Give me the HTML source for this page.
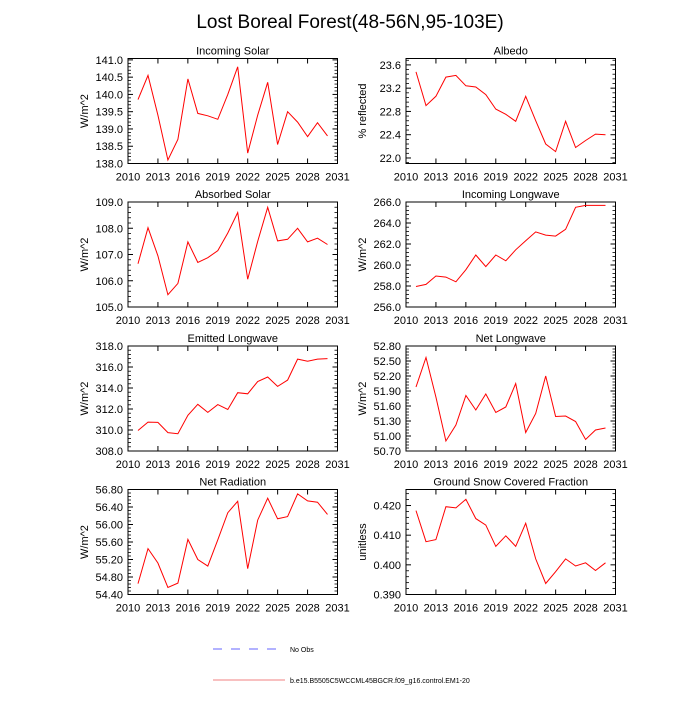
<!DOCTYPE html>
<html><head><meta charset="utf-8"><style>
body{margin:0;background:#fff;width:700px;height:700px;overflow:hidden}
svg{font-family:"Liberation Sans",sans-serif}
</style></head><body>
<svg id="chart" width="700" height="700" viewBox="0 0 700 700">
<text x="350" y="28" text-anchor="middle" font-size="19">Lost Boreal Forest(48-56N,95-103E)</text>
<g>
<line x1="213" y1="649" x2="285" y2="649" stroke="#6666ff" stroke-width="1" stroke-dasharray="9,9"/>
<text x="290" y="652" font-size="7">No Obs</text>
<line x1="213" y1="680" x2="285" y2="680" stroke="#f08080" stroke-width="1"/>
<text x="290" y="683" font-size="7">b.e15.B5505C5WCCML45BGCR.f09_g16.control.EM1-20</text>
</g>
</svg>
<script>
const years=[2011,2012,2013,2014,2015,2016,2017,2018,2019,2020,2021,2022,2023,2024,2025,2026,2027,2028,2029,2030];
const xTicks=[2010,2013,2016,2019,2022,2025,2028,2031];
const incomingSolar=[139.85,140.55,139.4,138.1,138.7,140.45,139.45,139.38,139.28,140.0,140.8,138.3,139.4,140.35,138.55,139.5,139.2,138.78,139.18,138.8];
const albedo=[23.48,22.9,23.06,23.39,23.42,23.24,23.22,23.09,22.84,22.75,22.63,23.06,22.64,22.24,22.11,22.63,22.18,22.3,22.41,22.4];
const absorbedSolar=[106.65,108.02,106.95,105.47,105.9,107.48,106.7,106.88,107.15,107.82,108.6,106.06,107.5,108.8,107.52,107.58,108.0,107.48,107.62,107.38];
const incomingLW=[257.95,258.15,258.95,258.85,258.4,259.55,260.95,259.85,260.95,260.4,261.45,262.3,263.15,262.85,262.75,263.4,265.5,265.68,265.68,265.68];
const emittedLW=[309.95,310.75,310.72,309.75,309.65,311.4,312.45,311.68,312.42,311.95,313.55,313.45,314.62,315.05,314.15,314.75,316.75,316.55,316.75,316.8];
const netLW=[51.98,52.57,51.78,50.9,51.22,51.81,51.52,51.84,51.47,51.58,52.05,51.07,51.45,52.2,51.39,51.4,51.29,50.93,51.12,51.16];
const netRad=[54.65,55.45,55.12,54.56,54.66,55.66,55.2,55.05,55.65,56.27,56.53,54.99,56.1,56.6,56.13,56.18,56.7,56.54,56.51,56.23];
const snowFrac=[0.4183,0.4078,0.4085,0.4196,0.4192,0.4221,0.4156,0.4134,0.4062,0.4098,0.4062,0.4140,0.4020,0.3937,0.3977,0.4020,0.3996,0.4007,0.3981,0.4007];
const yTicksIS=[138.0,138.5,139.0,139.5,140.0,140.5,141.0];
const yTicksAlb=[22.0,22.4,22.8,23.2,23.6];
const yTicksAbs=[105.0,106.0,107.0,108.0,109.0];
const yTicksILW=[256.0,258.0,260.0,262.0,264.0,266.0];
const yTicksELW=[308.0,310.0,312.0,314.0,316.0,318.0];
const yTicksNLW=[50.70,51.00,51.30,51.60,51.90,52.20,52.50,52.80];
const yTicksNR=[54.40,54.80,55.20,55.60,56.00,56.40,56.80];
const yTicksSnow=[0.390,0.400,0.410,0.420];

const NS='http://www.w3.org/2000/svg';
const svg=document.getElementById('chart');
function mk(tag,attrs,parent){const e=document.createElementNS(NS,tag);for(const k in attrs)e.setAttribute(k,attrs[k]);parent.appendChild(e);return e;}
const panels=[
 {id:'incoming-solar',title:'Incoming Solar',unit:'W/m^2',data:incomingSolar,ticks:yTicksIS,min:138.0,max:141.04,dec:1,col:0,row:0},
 {id:'albedo',title:'Albedo',unit:'% reflected',data:albedo,ticks:yTicksAlb,min:21.905,max:23.71,dec:1,col:1,row:0},
 {id:'absorbed-solar',title:'Absorbed Solar',unit:'W/m^2',data:absorbedSolar,ticks:yTicksAbs,min:105,max:109,dec:1,col:0,row:1},
 {id:'incoming-longwave',title:'Incoming Longwave',unit:'W/m^2',data:incomingLW,ticks:yTicksILW,min:256,max:266,dec:1,col:1,row:1},
 {id:'emitted-longwave',title:'Emitted Longwave',unit:'W/m^2',data:emittedLW,ticks:yTicksELW,min:308,max:318,dec:1,col:0,row:2},
 {id:'net-longwave',title:'Net Longwave',unit:'W/m^2',data:netLW,ticks:yTicksNLW,min:50.7,max:52.8,dec:2,col:1,row:2},
 {id:'net-radiation',title:'Net Radiation',unit:'W/m^2',data:netRad,ticks:yTicksNR,min:54.4,max:56.8,dec:2,col:0,row:3},
 {id:'snow-fraction',title:'Ground Snow Covered Fraction',unit:'unitless',data:snowFrac,ticks:yTicksSnow,min:0.390,max:0.4254,dec:3,col:1,row:3}
];
const colX=[128,406], W=209.5, rowY=[58.5,202,346,489.5], H=105;
panels.forEach(p=>{
 const L=colX[p.col], T=rowY[p.row], R=L+W, B=T+H;
 const x=v=>L+(v-2010)/21*W;
 const y=v=>B-(v-p.min)/(p.max-p.min)*H;
 const g=mk('g',{},svg);
 
 
 const t=mk('text',{x:(L+R)/2,y:T-4,'text-anchor':'middle','font-size':11},g);t.textContent=p.title;
 
 
 const fr=mk('rect',{x:L,y:T,width:W,height:H,fill:'none',stroke:'#000','stroke-width':1},g);
 
 
 xTicks.forEach(v=>{
  const xx=x(v);
  mk('line',{x1:xx,y1:B,x2:xx,y2:B-5,stroke:'#000'},g);
  mk('line',{x1:xx,y1:T,x2:xx,y2:T+5,stroke:'#000'},g);
  const lt=mk('text',{x:xx,y:B+17,'text-anchor':'middle','font-size':11},g);lt.textContent=v;
  
  
 });
 const step=p.ticks[1]-p.ticks[0];
 for(let i=0;i<p.ticks.length;i++){
  const v=p.ticks[i], yy=y(v);
  mk('line',{x1:L,y1:yy,x2:L+5,y2:yy,stroke:'#000'},g);
  mk('line',{x1:R,y1:yy,x2:R-5,y2:yy,stroke:'#000'},g);
  const lt=mk('text',{x:L-5,y:yy+4,'text-anchor':'end','font-size':11},g);lt.textContent=v.toFixed(p.dec);
  
  
  for(let k=-4;k<=4;k++){
   if(k===0)continue;
   const mv=v+k*step/5; const my=y(mv);
   if(k<0&&i>0)continue;
   if(my<T-0.1||my>B+0.1)continue;
   mk('line',{x1:L,y1:my,x2:L+3,y2:my,stroke:'#000','stroke-width':0.8},g);
   mk('line',{x1:R,y1:my,x2:R-3,y2:my,stroke:'#000','stroke-width':0.8},g);
  }
 }
 const ux=L-40, uy=(T+B)/2;
 const ut=mk('text',{x:ux,y:uy,'text-anchor':'middle','font-size':11,transform:`rotate(-90 ${ux} ${uy})`},g);ut.textContent=p.unit;
 
 
 const pts=p.data.map((v,i)=>x(years[i]).toFixed(1)+','+y(v).toFixed(1)).join(' ');
 const pl=mk('polyline',{points:pts,fill:'none',stroke:'#ff0000','stroke-width':1},g);
 
 
});
</script>
</body></html>
